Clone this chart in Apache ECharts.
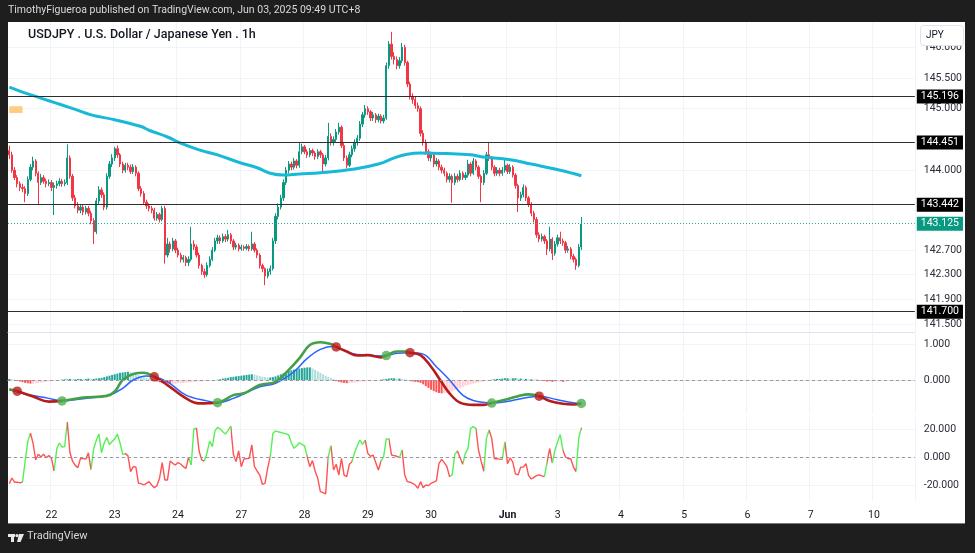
<!DOCTYPE html>
<html><head><meta charset="utf-8">
<script src="https://cdn.jsdelivr.net/npm/echarts@6/dist/echarts.min.js"></script>
<style>
html,body{margin:0;padding:0;background:#1e1e1e;}
#wrap{position:relative;width:975px;height:553px;background:#1e1e1e;overflow:hidden;}
#paper{position:absolute;left:8px;top:22px;width:957px;height:501px;background:#fff;border-bottom:1px solid #7a7a7a;}
#c{position:absolute;left:0;top:0;width:975px;height:553px;}
</style>
</head><body><div id="wrap"><div id="paper"></div><div id="c"></div></div>
<script>
// ---------- sessions / categories (1h bars, UTC+8) ----------
const sessions = [['05-21',8,23],['05-22',0,23],['05-23',0,23],['05-24',0,4],['05-26',5,23],['05-27',0,23],['05-28',0,23],['05-29',0,23],['05-30',0,23],['05-31',0,4],['06-02',5,23],['06-03',0,23],['06-04',0,23],['06-05',0,23],['06-06',0,23],['06-07',0,4],['06-09',5,23],['06-10',0,15]];
const tickCats = ['05-22 00:00','05-23 00:00','05-24 00:00','05-27 00:00','05-28 00:00','05-29 00:00','05-30 00:00','06-02 05:00','06-03 00:00','06-04 00:00','06-05 00:00','06-06 00:00','06-07 00:00','06-10 00:00'];
const tickNames = ['22','23','24','27','28','29','30','Jun','3','4','5','6','7','10'];
const priceTicks = [146, 145.5, 145, 144, 142.7, 142.3, 141.9, 141.5];
const macdTicks = [1, 0];
const oscTicks = [20, 0, -20];
const levels = [145.196, 144.451, 143.442, 141.700];
const lastPrice = 143.125;
const orangeBox = {from: 0, to: 5, top: 145.04, bottom: 144.93};

// ---------- OHLC [open, close, low, high] ----------
const ohlc = [
[144.32,144.25,144.18,144.40],[144.25,144.00,143.96,144.30],[144.00,143.88,143.84,144.05],[143.88,143.78,143.72,143.92],[143.78,143.72,143.66,143.82],
[143.72,143.70,143.64,143.78],[143.70,143.62,143.48,143.74],[143.62,143.85,143.58,143.90],[143.85,144.05,143.82,144.10],[144.05,144.15,144.00,144.22],
[144.15,143.95,143.90,144.18],[143.95,143.80,143.45,143.98],[143.80,143.88,143.76,143.94],[143.88,143.82,143.78,143.92],[143.82,143.78,143.72,143.86],
[143.78,143.80,143.74,143.85],[143.80,143.72,143.66,143.84],[143.72,143.75,143.27,143.80],[143.75,143.78,143.70,143.83],[143.78,143.82,143.74,143.87],
[143.82,143.78,143.73,143.86],[143.78,143.80,143.74,143.85],[143.80,144.20,143.76,144.42],[144.20,143.90,143.86,144.24],[143.90,143.55,143.50,143.94],
[143.55,143.42,143.38,143.60],[143.42,143.35,143.30,143.48],[143.35,143.40,143.30,143.45],[143.40,143.32,143.27,143.44],[143.32,143.38,143.28,143.42],
[143.38,143.30,143.25,143.42],[143.30,143.18,143.12,143.34],[143.18,143.00,142.80,143.22],[143.00,143.50,142.96,143.55],[143.50,143.68,143.45,143.74],
[143.68,143.60,143.55,143.72],[143.60,143.40,143.35,143.64],[143.40,143.90,143.36,143.95],[143.90,144.10,143.86,144.15],[144.10,144.20,144.05,144.26],
[144.20,144.35,144.15,144.38],[144.35,144.25,144.20,144.40],[144.25,144.10,144.05,144.28],[144.10,144.00,143.95,144.14],[144.00,144.08,143.96,144.12],
[144.08,144.05,144.00,144.12],[144.05,143.98,143.94,144.09],[143.98,144.05,143.94,144.10],[144.05,143.95,143.90,144.08],[143.95,143.70,143.66,143.98],
[143.70,143.62,143.57,143.74],[143.62,143.48,143.44,143.66],[143.48,143.42,143.37,143.52],[143.42,143.38,143.33,143.46],[143.38,143.35,143.30,143.42],
[143.35,143.22,143.18,143.39],[143.22,143.28,143.18,143.32],[143.28,143.20,143.15,143.31],[143.20,143.38,143.17,143.42],[143.38,142.62,142.48,143.42],
[142.62,142.80,142.58,142.90],[142.80,142.72,142.66,142.84],[142.72,142.85,142.68,142.90],[142.85,142.70,142.65,142.88],[142.70,142.62,142.58,142.74],
[142.62,142.55,142.50,142.66],[142.55,142.58,142.50,142.62],[142.58,142.50,142.44,142.61],[142.50,142.55,142.44,142.60],[142.55,142.80,142.52,143.08],
[142.80,142.75,142.70,142.86],[142.75,142.62,142.58,142.79],[142.62,142.45,142.40,142.66],[142.45,142.35,142.30,142.48],[142.35,142.30,142.25,142.40],
[142.30,142.45,142.27,142.50],[142.45,142.55,142.42,142.60],[142.55,142.70,142.52,142.75],[142.70,142.85,142.67,142.90],[142.85,142.90,142.80,142.95],
[142.90,142.85,142.80,142.94],[142.85,142.92,142.82,142.97],[142.92,142.88,142.83,142.96],[142.88,142.95,142.84,143.03],[142.95,142.85,142.80,142.98],
[142.85,142.75,142.70,142.88],[142.75,142.78,142.71,142.82],[142.78,142.72,142.68,142.81],[142.72,142.75,142.69,142.79],[142.75,142.73,142.69,142.78],
[142.73,142.76,142.70,142.80],[142.76,142.72,142.68,142.79],[142.72,142.80,142.69,143.00],[142.80,142.70,142.66,142.83],[142.70,142.62,142.57,142.73],
[142.62,142.45,142.40,142.65],[142.45,142.40,142.34,142.48],[142.40,142.28,142.13,142.42],[142.28,142.35,142.24,142.40],[142.35,142.40,142.30,142.45],
[142.40,142.85,142.37,142.90],[142.85,143.25,142.80,143.30],[143.25,143.40,143.20,143.46],[143.40,143.55,143.36,143.60],[143.55,143.80,143.50,143.85],
[143.80,144.00,143.76,144.05],[144.00,144.10,143.95,144.15],[144.10,144.05,144.00,144.14],[144.05,144.15,144.01,144.20],[144.15,144.08,144.03,144.18],
[144.08,144.30,144.04,144.46],[144.30,144.38,144.26,144.43],[144.38,144.30,144.26,144.41],[144.30,144.25,144.20,144.34],[144.25,144.32,144.21,144.36],
[144.32,144.28,144.23,144.35],[144.28,144.22,144.17,144.31],[144.22,144.30,144.18,144.34],[144.30,144.25,144.20,144.33],[144.25,144.10,143.97,144.28],
[144.10,144.20,144.06,144.25],[144.20,144.55,144.16,144.77],[144.55,144.45,144.40,144.60],[144.45,144.50,144.40,144.55],[144.50,144.62,144.46,144.67],
[144.62,144.70,144.58,144.77],[144.70,144.40,144.36,144.73],[144.40,144.20,144.15,144.44],[144.20,144.08,144.03,144.24],[144.08,144.25,144.05,144.30],
[144.25,144.35,144.21,144.40],[144.35,144.45,144.30,144.50],[144.45,144.52,144.40,144.57],[144.52,144.75,144.48,144.80],[144.75,144.90,144.70,144.95],
[144.90,145.00,144.85,145.06],[145.00,144.95,144.90,145.04],[144.95,144.85,144.80,144.98],[144.85,144.90,144.80,144.95],[144.90,144.82,144.77,144.93],
[144.82,144.88,144.78,144.92],[144.88,144.80,144.76,144.91],[144.80,144.85,144.76,144.90],[144.85,145.70,144.82,145.75],[145.70,146.05,145.65,146.10],
[146.05,145.85,145.80,146.25],[145.85,145.80,145.72,145.92],[145.80,145.70,145.64,145.85],[145.70,145.78,145.65,145.84],[145.78,146.00,145.74,146.07],
[146.00,145.75,145.70,146.04],[145.75,145.40,145.35,145.78],[145.40,145.20,145.15,145.44],[145.20,145.15,145.08,145.25],[145.15,145.05,145.00,145.20],
[145.05,145.00,144.95,145.10],[145.00,144.60,144.55,145.04],[144.60,144.45,144.40,144.65],[144.45,144.30,144.25,144.50],[144.30,144.20,144.15,144.34],
[144.20,144.25,144.14,144.30],[144.25,144.10,144.05,144.28],[144.10,144.15,144.06,144.20],[144.15,144.05,144.00,144.18],[144.05,144.00,143.95,144.09],
[144.00,143.95,143.90,144.04],[143.95,143.85,143.80,143.98],[143.85,143.90,143.80,143.95],[143.90,143.80,143.47,143.93],[143.80,143.90,143.76,143.95],
[143.90,143.85,143.80,143.94],[143.85,143.95,143.82,144.00],[143.95,143.88,143.84,143.98],[143.88,143.92,143.84,143.97],[143.92,144.10,143.88,144.17],
[144.10,143.95,143.90,144.13],[143.95,144.15,143.92,144.20],[144.15,144.05,144.00,144.18],[144.05,143.90,143.86,144.08],[143.90,143.80,143.48,143.93],
[143.80,143.95,143.76,144.00],[143.95,144.25,143.92,144.30],[144.25,144.20,144.15,144.46],[144.20,144.05,144.00,144.23],[144.05,143.95,143.90,144.08],
[143.95,144.00,143.91,144.05],[144.00,143.95,143.90,144.04],[143.95,144.00,143.91,144.05],[144.00,144.08,143.96,144.17],[144.08,143.98,143.94,144.11],
[143.98,144.05,143.94,144.10],[144.05,143.92,143.88,144.08],[143.92,143.75,143.70,143.95],[143.75,143.55,143.32,143.78],[143.55,143.60,143.50,143.65],
[143.60,143.72,143.56,143.77],[143.72,143.55,143.50,143.75],[143.55,143.45,143.40,143.58],[143.45,143.30,143.25,143.48],[143.30,143.20,143.15,143.34],
[143.20,142.95,142.90,143.24],[142.95,142.88,142.83,142.99],[142.88,142.92,142.84,142.97],[142.92,142.85,142.80,142.95],[142.85,142.72,142.62,142.88],
[142.72,142.88,142.68,143.08],[142.88,142.65,142.54,142.91],[142.65,142.80,142.61,142.85],[142.80,142.90,142.76,142.95],[142.90,142.85,142.80,143.00],
[142.85,142.82,142.77,142.89],[142.82,142.70,142.65,142.85],[142.70,142.72,142.66,142.77],[142.72,142.60,142.55,142.75],[142.60,142.55,142.50,142.64],
[142.55,142.45,142.38,142.58],[142.45,142.75,142.42,142.80],[142.75,143.125,142.70,143.24]
];

// moving average (bar index, value)
const maLine = [[0,145.35],[5,145.27],[10,145.20],[15,145.13],[20,145.06],[25,144.99],[31,144.90],[40,144.82],[50,144.71],[53,144.65],[60,144.54],[65,144.44],[72,144.33],[79,144.25],[87,144.13],[94,144.04],[99,143.95],[104,143.92],[110,143.94],[118,143.96],[131,144.02],[140,144.10],[146,144.20],[151,144.26],[156,144.28],[166,144.27],[175,144.25],[179,144.22],[190,144.17],[198,144.10],[209,144.00],[217,143.91]];

// ---------- MACD pane ----------
const macdLine = [[0,-0.26],[3,-0.31],[9,-0.46],[15,-0.60],[20,-0.58],[28,-0.49],[37,-0.44],[40,-0.32],[43,0.0],[47,0.17],[51,0.20],[55,0.09],[60,-0.14],[66,-0.46],[72,-0.65],[79,-0.63],[85,-0.42],[89,-0.37],[95,-0.14],[101,-0.05],[106,0.28],[110,0.60],[114,0.97],[118,1.05],[122,1.0],[124,0.92],[128,0.79],[132,0.68],[136,0.69],[141,0.63],[143,0.68],[147,0.79],[150,0.79],[152,0.76],[156,0.69],[160,0.37],[163,0.05],[167,-0.37],[171,-0.63],[176,-0.69],[180,-0.69],[183,-0.64],[188,-0.55],[193,-0.45],[197,-0.40],[201,-0.45],[205,-0.58],[210,-0.66],[214,-0.68],[217,-0.65]];
const signalLine = [[0,-0.26],[6,-0.39],[15,-0.51],[20,-0.58],[28,-0.52],[38,-0.42],[43,-0.23],[47,0.0],[52,0.11],[55,0.09],[60,-0.05],[67,-0.42],[75,-0.58],[79,-0.63],[85,-0.51],[95,-0.19],[101,-0.09],[108,0.23],[113,0.60],[118,0.85],[123,0.94],[124,0.92],[130,0.74],[136,0.69],[141,0.67],[143,0.68],[147,0.74],[152,0.76],[157,0.72],[162,0.37],[167,0.0],[172,-0.42],[176,-0.57],[181,-0.63],[183,-0.64],[190,-0.58],[197,-0.48],[201,-0.45],[208,-0.55],[214,-0.63],[217,-0.65]];
const macdRedRanges = [[3,20],[55,79],[124,143],[152,183],[201,217]];
const crossIdx = [3,20,55,79,124,143,152,183,201,217];
const crossVal = [-0.31,-0.58,0.09,-0.63,0.92,0.68,0.76,-0.64,-0.45,-0.65];
const crossUp = [false,true,false,true,false,true,false,true,false,true];
const hist = [
0.03,0.02,0.01,
-0.02,-0.04,-0.06,-0.08,-0.09,-0.10,-0.10,-0.09,
-0.08,-0.07,-0.06,-0.05,-0.04,-0.03,-0.02,-0.02,-0.01,
0.01,0.02,0.02,0.03,0.02,0.02,0.03,0.03,0.02,0.03,0.04,0.03,0.03,0.04,0.05,0.06,
0.08,0.10,0.12,0.14,0.16,0.18,0.20,0.21,0.22,0.23,0.22,0.20,
0.17,0.14,0.11,0.08,0.06,0.04,0.02,
-0.02,-0.04,-0.06,-0.08,-0.09,-0.10,-0.11,-0.11,
-0.10,-0.09,-0.09,-0.08,-0.07,-0.07,-0.06,-0.05,-0.05,-0.04,-0.04,-0.03,-0.03,-0.02,-0.02,-0.01,
0.01,0.02,0.04,0.05,0.06,0.08,0.09,0.10,0.11,0.12,0.13,0.14,0.15,0.16,
0.15,0.13,0.11,0.09,0.08,0.07,0.07,0.08,
0.10,0.13,0.16,0.19,0.22,0.25,0.27,0.29,0.31,0.32,0.33,0.34,0.35,0.35,
0.32,0.28,0.24,0.20,0.16,0.12,0.09,0.06,0.03,
-0.03,-0.05,-0.07,-0.08,-0.09,-0.09,-0.08,-0.07,-0.06,-0.05,-0.04,-0.04,-0.03,-0.03,-0.02,-0.02,-0.01,
0.01,0.02,0.03,0.04,0.05,0.05,0.04,0.04,0.03,0.02,0.01,
-0.02,-0.04,-0.05,-0.06,-0.08,-0.12,-0.17,-0.22,
-0.27,-0.31,-0.34,-0.36,-0.37,-0.37,-0.36,
-0.34,-0.31,-0.28,-0.25,-0.22,-0.19,-0.16,-0.14,-0.12,-0.10,-0.08,-0.07,-0.05,-0.04,-0.03,-0.02,
0.01,0.02,0.03,0.03,0.04,0.05,0.05,0.04,0.05,0.05,0.04,0.04,0.03,0.03,0.02,0.02,0.01,0.01,
-0.01,-0.02,-0.03,-0.04,-0.04,-0.05,-0.05,-0.04,-0.04,-0.05,-0.04,-0.03,-0.03,-0.02,-0.02,-0.01,0.00
];

// ---------- oscillator pane ----------
const osc = [
-19,-15,-18,-18,-18.5,-18,-3,11,17,10,
-2,2,0,2,-0.5,1,-1,-10,6,10,
7,7.5,25,3,-3,-6,-7.6,-1,-1.2,-1.4,
3,-9,6,12,16.4,3,10,14,9,11,
13,16.4,10,2,2.4,1,-10.5,-6.9,-7.1,-18.8,
-19,-20,-18.8,-17.6,-20,-21.9,-20.5,-15,-4,-16.4,
-16.4,-2.9,-4.5,-5.7,-4,-5,-6.9,-8.1,-0.2,-5.7,
20,20.5,4.3,-2.1,-2.9,3,11.4,7.4,18.6,21.2,
20,18,16.4,19,22.1,1.9,-3.3,4.3,-6.9,-1.4,
-1.2,-1,8.6,-6.9,-10,-12.9,-19.5,-18.8,-8,0.2,
17,18.6,18,17.5,17,16.5,15.7,10,6.2,8,
10.2,9,7.9,0.2,-6.9,-2.6,-10,-15.2,-24.8,-25.5,
-26.4,0.2,8.1,-9.3,-5.2,-12.9,-1,-12.9,-14,-5.2,
-3.3,3.3,8,12.1,9,12.1,2.6,0.5,1.4,-4,
-9.3,-3,0.2,12.9,12.9,1.4,1,0.5,-0.5,5,
-12.9,-17.6,-18,-18.8,-20,-22.4,-17.6,-21.9,-20,-20.5,
-18.8,-18,-17.1,-4.5,-1.7,-4,-6.9,-14,-12.6,1.9,
4.3,-0.5,-5.2,2.6,6.2,20.5,21.7,20.5,5,-3,
-10.2,13.3,19.3,13.3,-1.2,-1.2,-1.5,-1.7,10.8,-4.8,
-0.7,-3.6,-12,-12.8,-7.2,-7.2,-4.8,-13.3,-15.7,-14.5,
-13.3,-12.8,-13.5,-14,-3.6,6,-4.3,5,10.8,16,
4.8,0,-1.2,-1.2,-7.2,-10.4,13.3,21
];
const oscGreenRanges = [[5,8],[17,22],[31,44],[68,71],[74,84],[99,113],[121,122],[130,135],[141,144],[148,149],[167,170],[172,177],[180,182],[187,188],[203,204],[206,210],[215,217]];

// ---------- build ----------
const categories = [];
sessions.forEach(([d, h0, h1]) => { for (let h = h0; h <= h1; h++) categories.push(d + ' ' + String(h).padStart(2, '0') + ':00'); });
const tickMap = new Map(tickCats.map((c, i) => [c, tickNames[i]]));
const isTick = (idx, val) => tickMap.has(val);

const FONT = 'Roboto, "Noto Sans", sans-serif';
const TXT = '#131722';
const GRID_C = '#f0f3fa';
const UP = '#089981', DN = '#f23645';

const grids = [
  {left: 8, width: 906.8, top: 22, height: 310},
  {left: 8, width: 906.8, top: 334, height: 80},
  {left: 8, width: 906.8, top: 417, height: 84}
].map(g => Object.assign(g, {outerBoundsMode: 'none', containLabel: false}));

function xAxis(gi, showLabel, lineColor) {
  return {
    type: 'category', gridIndex: gi, data: categories, boundaryGap: true,
    axisLine: {show: !!lineColor, lineStyle: {color: lineColor || '#fff', width: 1}},
    axisTick: {show: false},
    splitLine: {show: true, interval: isTick, lineStyle: {color: GRID_C, width: 1}},
    axisLabel: showLabel ? {
      show: true, interval: isTick, margin: 9, color: TXT, fontSize: 10.5, fontFamily: FONT,
      formatter: v => { const n = tickMap.get(v) || ''; return n === 'Jun' ? '{b|Jun}' : n; },
      rich: {b: {fontWeight: 'bold', fontSize: 10.5, color: TXT, fontFamily: FONT}}
    } : {show: false}
  };
}
function yAxis(gi, min, max, ticks, digits) {
  return {
    type: 'value', gridIndex: gi, position: 'right', min, max, scale: true,
    axisLine: {show: false}, axisTick: {show: false, customValues: ticks},
    splitLine: {show: true, lineStyle: {color: GRID_C, width: 1}},
    axisLabel: {show: true, customValues: ticks, margin: 9, color: '#2a2e39', fontSize: 10.5, fontFamily: FONT,
      formatter: v => Number(v).toFixed(digits)}
  };
}

const levelLines = levels.map(v => ({
  yAxis: v,
  lineStyle: {color: '#2e2e2e', width: 1, type: 'solid'},
  label: {show: true, position: 'end', distance: 2, formatter: () => v.toFixed(3), color: '#fff',
    backgroundColor: '#000', padding: [2, 4, 1, 4], fontSize: 10.5, fontFamily: FONT}
}));
levelLines.push({
  yAxis: lastPrice,
  lineStyle: {color: '#26a69a', width: 1, type: [1, 2]},
  label: {show: true, position: 'end', distance: 2, formatter: () => lastPrice.toFixed(3), color: '#fff',
    backgroundColor: '#089981', padding: [2, 4, 1, 4], fontSize: 10.5, fontFamily: FONT}
});

const histData = hist.map((v, i) => {
  const p = i > 0 ? hist[i - 1] : 0;
  let c;
  if (v >= 0) c = v >= p ? '#26a69a' : '#b2dfdb';
  else c = v < p ? '#ff5252' : '#ffcdd2';
  return {value: v, itemStyle: {color: c}};
});
const crossData = crossIdx.map((x, i) => ({value: [x, crossVal[i]], itemStyle: {color: crossUp[i] ? '#4caf50' : '#b71c1c'}}));

const zeroLine = (color) => ({
  silent: true, symbol: ['none', 'none'],
  lineStyle: {color: color, type: [3, 3], width: 1},
  label: {show: false}, data: [{yAxis: 0}]
});

const chart = echarts.init(document.getElementById('c'), null, {renderer: 'canvas'});
chart.setOption({
  backgroundColor: 'transparent',
  animation: false,
  textStyle: {fontFamily: FONT},
  grid: grids,
  xAxis: [xAxis(0, false, '#e0e3eb'), xAxis(1, false, '#e0e3eb'), xAxis(2, true, null)],
  yAxis: [yAxis(0, 141.369, 146.41, priceTicks, 3), yAxis(1, -0.944, 1.278, macdTicks, 3), yAxis(2, -31.43, 28.57, oscTicks, 3)],
  visualMap: [
    {type: 'piecewise', show: false, seriesIndex: 4, dimension: 0,
      pieces: macdRedRanges.map(r => ({gte: r[0], lte: r[1], color: '#b71c1c'})), outOfRange: {color: '#43a047'}},
    {type: 'piecewise', show: false, seriesIndex: 6, dimension: 0,
      pieces: oscGreenRanges.map(r => ({gte: r[0], lte: r[1], color: '#55f055'})), outOfRange: {color: '#ff5252'}}
  ],
  series: [
    {type: 'candlestick', xAxisIndex: 0, yAxisIndex: 0, data: ohlc, barWidth: 1.8,
      itemStyle: {color: UP, color0: DN, borderColor: UP, borderColor0: DN, borderWidth: 1},
      markLine: {silent: true, symbol: ['none', 'none'], data: levelLines},
      markArea: {silent: true, itemStyle: {color: '#ffcc80'}, label: {show: false},
        data: [[{xAxis: orangeBox.from, yAxis: orangeBox.top}, {xAxis: orangeBox.to, yAxis: orangeBox.bottom}]]}
    },
    {type: 'line', xAxisIndex: 0, yAxisIndex: 0, data: maLine, smooth: 0.4, symbol: 'none',
      lineStyle: {color: '#17b9d6', width: 3}, z: 4},
    {type: 'bar', xAxisIndex: 1, yAxisIndex: 1, data: histData, barWidth: 2,
      markLine: zeroLine('#9598a1')},
    {type: 'line', xAxisIndex: 1, yAxisIndex: 1, data: signalLine, smooth: 0.4, symbol: 'none',
      lineStyle: {color: '#2962ff', width: 1.5}, z: 3},
    {type: 'line', xAxisIndex: 1, yAxisIndex: 1, data: macdLine, smooth: 0.4, symbol: 'none',
      lineStyle: {width: 2.6}, z: 4},
    {type: 'scatter', xAxisIndex: 1, yAxisIndex: 1, data: crossData, symbolSize: 9.5, z: 6},
    {type: 'line', xAxisIndex: 2, yAxisIndex: 2, data: osc, symbol: 'none',
      lineStyle: {width: 1.4}, z: 4, markLine: zeroLine('#9598a1')}
  ],
  graphic: [
    {type: 'text', left: 8, top: 5, z: 100, style: {text: 'TimothyFigueroa published on TradingView.com, Jun 03, 2025 09:49 UTC+8',
      fill: '#d9d9d9', font: '10.5px ' + FONT}},
    {type: 'text', left: 28, top: 28, z: 100, style: {text: 'USDJPY . U.S. Dollar / Japanese Yen . 1h',
      fill: TXT, font: '500 12.5px ' + FONT}},
    {type: 'rect', left: 920, top: 25, z: 100, shape: {width: 43, height: 20, r: 3},
      style: {fill: '#fff', stroke: '#e0e3eb', lineWidth: 1}},
    {type: 'text', left: 926, top: 30, z: 101, style: {text: 'JPY', fill: TXT, font: '10px ' + FONT}},
    {type: 'group', left: 8, top: 534, z: 100, children: [
      {type: 'rect', shape: {x: 0, y: 0, width: 7, height: 3}, style: {fill: '#e8e8e8'}},
      {type: 'rect', shape: {x: 3, y: 0, width: 3, height: 8}, style: {fill: '#e8e8e8'}},
      {type: 'circle', shape: {cx: 9, cy: 1.6, r: 1.6}, style: {fill: '#e8e8e8'}},
      {type: 'polygon', shape: {points: [[11, 0], [16, 0], [12.5, 8], [9, 8]]}, style: {fill: '#e8e8e8'}}
    ]},
    {type: 'text', left: 27, top: 531, z: 100, style: {text: 'TradingView', fill: '#d9d9d9', font: '11px ' + FONT}}
  ]
});
</script></body></html>
